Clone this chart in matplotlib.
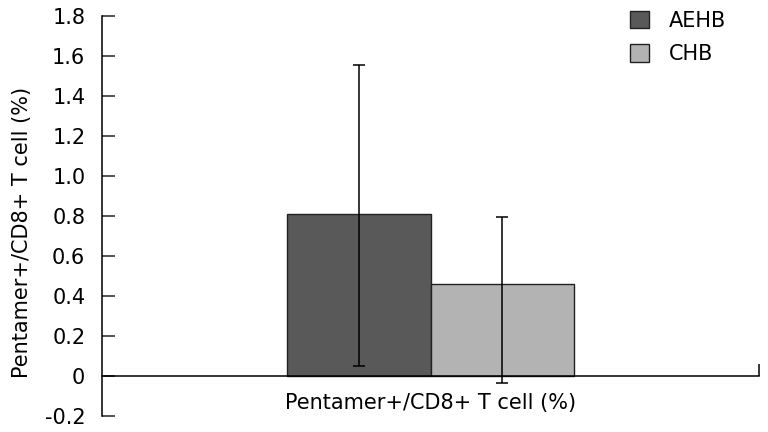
import matplotlib
matplotlib.use("Agg")
import matplotlib.pyplot as plt
import numpy as np

# data
groups = ["AEHB", "CHB"]
means = [0.81, 0.46]
err_low = [0.76, 0.495]
err_high = [0.745, 0.335]
colors = ["#595959", "#b3b3b3"]
category = "Pentamer+/CD8+ T cell (%)"
yticks = [-0.2, 0, 0.2, 0.4, 0.6, 0.8, 1.0, 1.2, 1.4, 1.6, 1.8]
ytick_labels = ["-0.2", "0", "0.2", "0.4", "0.6", "0.8", "1.0", "1.2", "1.4", "1.6", "1.8"]

plt.rcParams["font.family"] = "DejaVu Sans"
plt.rcParams["font.size"] = 15

fig = plt.figure(figsize=(7.68, 4.32), dpi=100)
ax = fig.add_axes([0.1328, 0.037, 0.8555, 0.926])

width = 0.219
offsets = np.array([-0.5, 0.5]) * width
for off, m, lo, hi, c, g in zip(offsets, means, err_low, err_high, colors, groups):
    ax.bar(off, m, width=width, color=c, edgecolor="#222222", linewidth=1.0, label=g)
    ax.errorbar(off, m, yerr=[[lo], [hi]], fmt="none", ecolor="black", elinewidth=1.1,
                capsize=4.5, capthick=1.1)

ax.set_xlim(-0.5, 0.5)
ax.set_ylim(-0.2, 1.8)
ax.set_yticks(yticks)
ax.set_yticklabels(ytick_labels)
ax.tick_params(axis="y", direction="in", length=9, width=1.1, pad=12, color="#222222")

ax.spines["top"].set_visible(False)
ax.spines["right"].set_visible(False)
ax.spines["bottom"].set_position(("data", 0))
ax.spines["left"].set_linewidth(1.1)
ax.spines["bottom"].set_linewidth(1.1)

ax.set_xticks([0])
ax.set_xticklabels([category])
ax.tick_params(axis="x", which="major", length=0, pad=12)
ax.set_xticks([0.5], minor=True)
ax.tick_params(axis="x", which="minor", direction="in", length=9, width=1.1)

ax.set_ylabel(category)
ax.yaxis.set_label_coords(-0.106, 0.46)

ax.legend(loc="upper left", bbox_to_anchor=(0.775, 1.06), frameon=False,
          handlelength=0.9, handleheight=0.9, handletextpad=0.95, labelspacing=0.65)

fig.savefig("out.png", dpi=100)
